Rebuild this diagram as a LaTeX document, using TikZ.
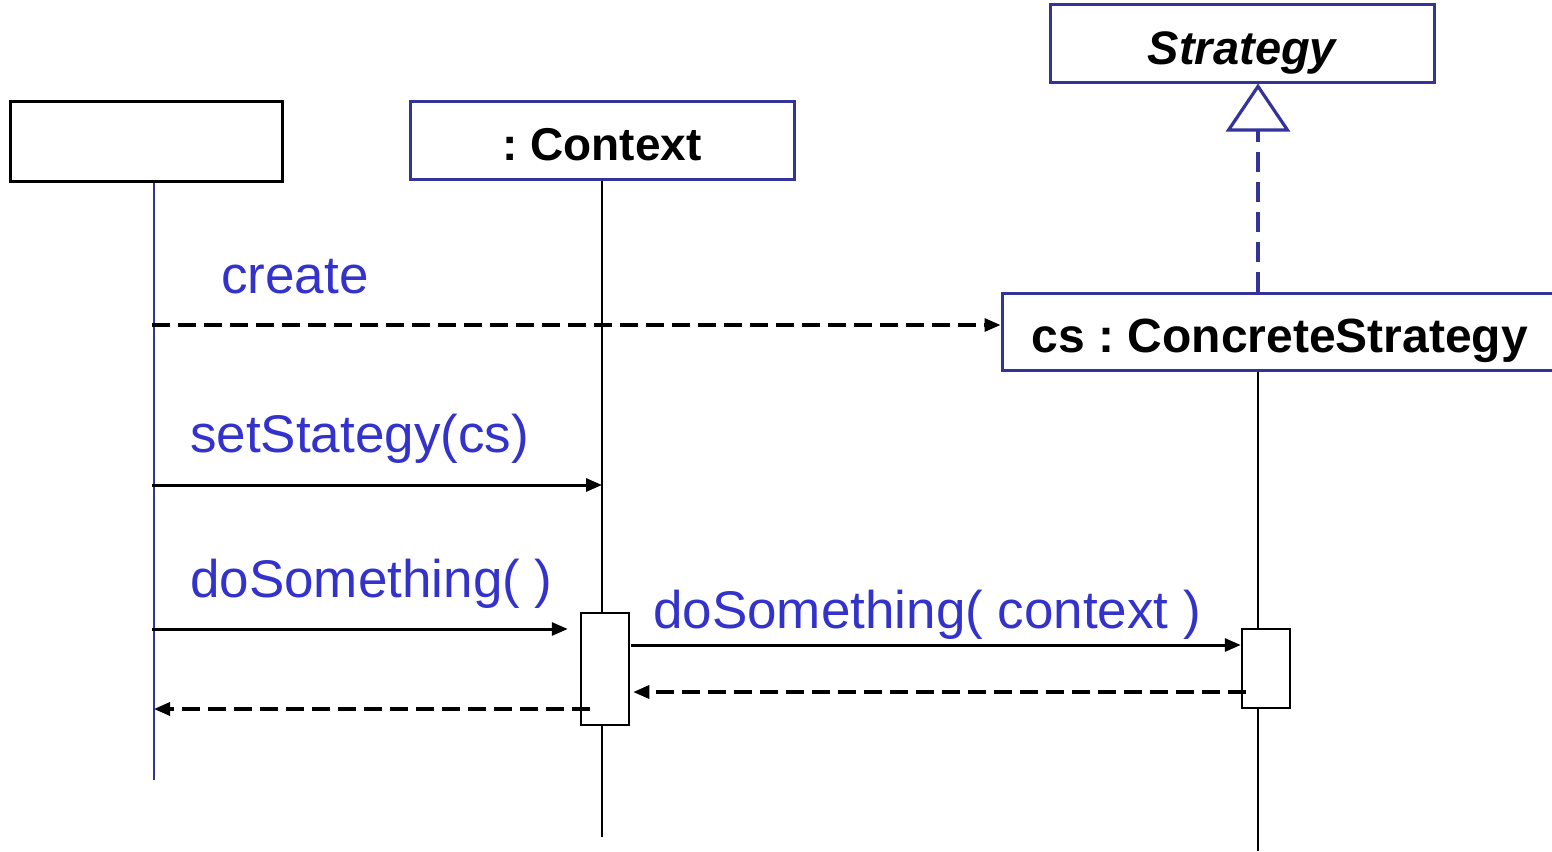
\documentclass[tikz,border=0pt]{standalone}
\usepackage{fontspec}
\setmainfont{Liberation Sans}
\usetikzlibrary{arrows.meta}
\definecolor{txtblue}{RGB}{51,51,204}
\definecolor{boxblue}{RGB}{51,51,153}
\begin{document}
\frenchspacing
\begin{tikzpicture}[x=1pt,y=-1pt,
 obj/.style={draw=boxblue, line width=3pt, inner sep=0pt, text height=41pt, text depth=0pt, font=\fontsize{46}{50}\selectfont\bfseries\frenchspacing, text=black},
 lbl/.style={font=\fontsize{53}{58}\selectfont, text=txtblue, anchor=base west, inner sep=0pt},
 msg/.style={line width=3pt, -{Triangle[length=16pt,width=13pt]}},
 ret/.style={msg, line width=3.2pt, dash pattern=on 18pt off 8pt},
 life/.style={line width=2pt},
 act/.style={draw, line width=2.5pt, fill=white, inner sep=0pt, minimum width=48pt}]
\useasboundingbox (0,0) rectangle (1552,851);
% objects
\node[obj, draw=black, minimum width=272pt, minimum height=80pt] (client) at (146,141) {};
\node[obj, minimum width=384pt, minimum height=78pt] (ctx) at (602,140) {: Context};
\node[obj, minimum width=384pt, minimum height=77pt, font=\fontsize{47}{50}\selectfont\bfseries\itshape] (strat) at (1242,43.5) {Strategy};
\node[obj, minimum width=556pt, minimum height=77pt, font=\fontsize{48}{50}\selectfont\bfseries\frenchspacing] (cs) at (1280,331.5) {cs : ConcreteStrategy};
% lifeline ends
\coordinate (clend) at (154,780);
\coordinate (ctxend) at (602,837);
\coordinate (csend) at (1258,851);
\draw[life, draw=boxblue] (client.south -| clend) -- (clend);
\draw[life] (ctx.south) -- (ctxend);
\draw[life] (cs.south -| csend) -- (csend);
% realization
\draw[line width=3.5pt, draw=boxblue, dash pattern=on 20pt off 10pt, -{Triangle[open, length=48pt, width=64pt, line width=3.2pt]}] (cs.north -| csend) -- (strat.south -| csend);
% activations
\node[act, minimum height=112pt] (act1) at (605,669) {};
\node[act, minimum height=79pt] (act2) at (1266,668.5) {};
% messages
\coordinate (m1) at (152,325);
\coordinate (m2) at (152,485);
\coordinate (m3) at (152,629);
\coordinate (m4) at (631,645);
\coordinate (r1) at (1246,692);
\coordinate (r2) at (590,709);
\draw[ret] (m1) -- (m1 -| cs.west);
\draw[msg] (m2) -- (m2 -| ctx.south);
\draw[msg] (m3) -- ([xshift=-12pt]m3 -| act1.west);
\draw[msg] (m4) -- (m4 -| act2.west);
\draw[ret] (r1) -- ([xshift=3pt]r1 -| act1.east);
\draw[ret] (r2) -- (r2 -| clend);
% labels
\node[lbl] (lcreate) at (221,293) {create};
\node[lbl] (lset) at (190,452) {setStategy(cs)};
\node[lbl] (ldo) at (190,597) {doSomething( )};
\node[lbl] (ldoc) at (653,628) {doSomething( context )};
\end{tikzpicture}
\end{document}
